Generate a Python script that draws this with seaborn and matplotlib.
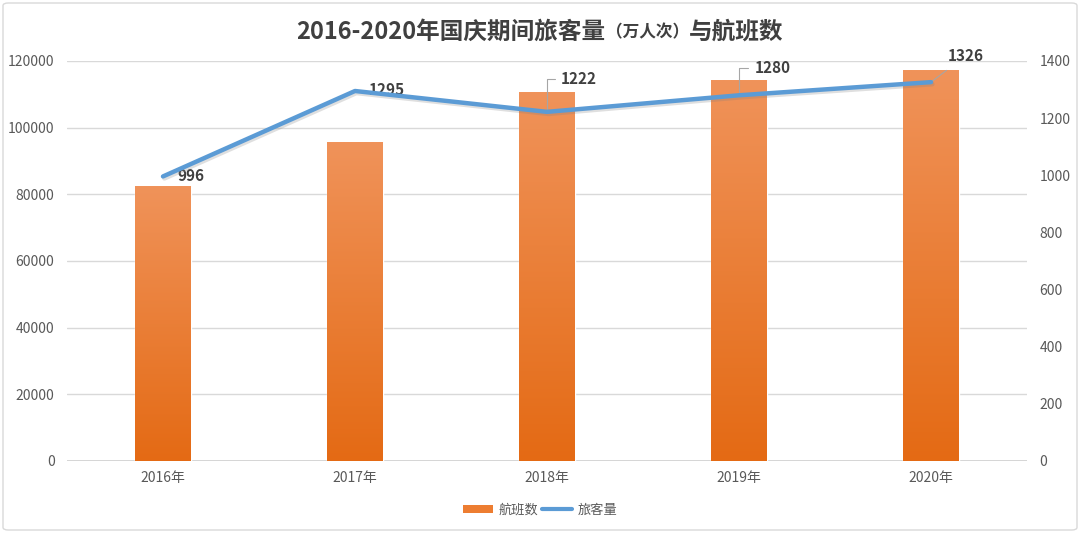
import numpy as np
import pandas as pd
import matplotlib
matplotlib.use("Agg")
import matplotlib.pyplot as plt
import seaborn as sns
from matplotlib.colors import LinearSegmentedColormap
from matplotlib.patches import FancyBboxPatch, Patch
from matplotlib.lines import Line2D
import matplotlib.patheffects as pe

years = ["2016年", "2017年", "2018年", "2019年", "2020年"]
flights = [82500, 95700, 110700, 114300, 117300]
passengers = [996, 1295, 1222, 1280, 1326]
left_ticks = [0, 20000, 40000, 60000, 80000, 100000, 120000]
right_ticks = [0, 200, 400, 600, 800, 1000, 1200, 1400]
title_main = "2016-2020年国庆期间旅客量"
title_paren = "（万人次）"
title_tail = "与航班数"
legend_labels = ["航班数", "旅客量"]

sns.set_theme(style="white")
plt.rcParams['font.family'] = ['Noto Sans CJK SC', 'DejaVu Sans']

fig = plt.figure(figsize=(10.8, 5.33), dpi=100)
ax = fig.add_axes([67/1080, 72/533, 960/1080, 400/533])

df = pd.DataFrame({"year": years, "flights": flights})
sns.barplot(data=df, x="year", y="flights", ax=ax, color="#ED7D31", width=0.29,
            saturation=1, zorder=2)

cmap = LinearSegmentedColormap.from_list("og", ["#E46A14", "#F0935A"])
grad = np.linspace(0, 1, 256).reshape(-1, 1)
for p in list(ax.patches):
    x0, y0, w, h = p.get_x(), p.get_y(), p.get_width(), p.get_height()
    im = ax.imshow(grad, extent=[x0, x0 + w, y0, y0 + h], aspect='auto',
                   cmap=cmap, origin='lower', zorder=2.1, interpolation='bilinear')
    im.set_clip_path(p)

ax.set_xlim(-0.5, len(years) - 0.5)
ax.set_ylim(0, 120000)
ax.set_yticks(left_ticks)
ax.set_yticklabels([str(t) for t in left_ticks])
ax.yaxis.grid(True, color="#D9D9D9", linewidth=1)
ax.set_axisbelow(True)
for s in ax.spines.values():
    s.set_visible(False)
ax.set_xlabel("")
ax.set_ylabel("")
ax.tick_params(axis='both', length=0, colors="#595959", labelsize=10)
ax.tick_params(axis='y', pad=9)
ax.tick_params(axis='x', pad=7)
ax.axhline(0, color="#D0D0D0", linewidth=1.2, zorder=1)

ax2 = ax.twinx()
xs = np.arange(len(years))
sns.lineplot(x=xs, y=passengers, ax=ax2, color="#5B9BD5", linewidth=3.2,
             sort=False, zorder=5,
             path_effects=[pe.SimpleLineShadow(offset=(1, -1.5), alpha=0.25, shadow_color="gray"),
                           pe.Normal()])
ax2.set_ylim(0, 1400)
ax2.set_yticks(right_ticks)
ax2.set_yticklabels([str(t) for t in right_ticks])
ax2.tick_params(axis='y', length=0, colors="#595959", labelsize=10, pad=9)
for s in ax2.spines.values():
    s.set_visible(False)
ax2.set_ylabel("")
ax.set_xlim(-0.5, len(years) - 0.5)

lab_kw = dict(fontsize=11, fontweight='bold', color="#404040", va='center', ha='left')
offsets = [(10, 0), (10, 1), (10, 24), (11, 20), (12, 19)]
for i, (v, off) in enumerate(zip(passengers, offsets)):
    if i < 2:
        ax2.annotate(str(v), (xs[i], v), xytext=off, textcoords='offset points', **lab_kw)
    elif i < 4:
        ax2.annotate(str(v), (xs[i], v), xytext=off, textcoords='offset points',
                     arrowprops=dict(arrowstyle='-', color="#A6A6A6", lw=0.8,
                                     connectionstyle='angle,angleA=0,angleB=90,rad=0',
                                     shrinkA=2, shrinkB=0),
                     **lab_kw)
    else:
        ax2.annotate(str(v), (xs[i], v), xytext=off, textcoords='offset points',
                     arrowprops=dict(arrowstyle='-', color="#A6A6A6", lw=0.8,
                                     shrinkA=4, shrinkB=0),
                     **lab_kw)

# title in three parts (parenthesised part smaller, like the reference)
ty = 1 - 32/533
t1 = fig.text(0.5, ty, title_main, ha='left', va='center', fontsize=17,
              fontweight='bold', color="#404040")
t2 = fig.text(0.5, ty, title_paren, ha='left', va='center', fontsize=12,
              fontweight='bold', color="#404040")
t3 = fig.text(0.5, ty, title_tail, ha='left', va='center', fontsize=17,
              fontweight='bold', color="#404040")
fig.canvas.draw()
r = fig.canvas.get_renderer()
w1 = t1.get_window_extent(r).width
w2 = t2.get_window_extent(r).width
w3 = t3.get_window_extent(r).width
W = fig.bbox.width
start = (W - (w1 + w2 + w3)) / 2
t1.set_x(start / W)
t2.set_x((start + w1) / W)
t3.set_x((start + w1 + w2) / W)

handles = [Patch(facecolor="#ED7D31", edgecolor="none"),
           Line2D([0], [0], color="#5B9BD5", linewidth=3)]
fig.legend(handles, legend_labels, loc='center', bbox_to_anchor=(0.5, 1 - 510/533),
           ncol=2, frameon=False, fontsize=9.5, labelcolor="#595959",
           handlelength=2.3, handleheight=0.6, columnspacing=0.3, handletextpad=0.4)

border = FancyBboxPatch((3/1080, 3/533), 1074/1080, 527/533, transform=fig.transFigure,
                        boxstyle="round,pad=0,rounding_size=0.005", facecolor='none',
                        edgecolor="#D9D9D9", linewidth=1)
fig.patches.append(border)

fig.savefig("out.png", dpi=100)
